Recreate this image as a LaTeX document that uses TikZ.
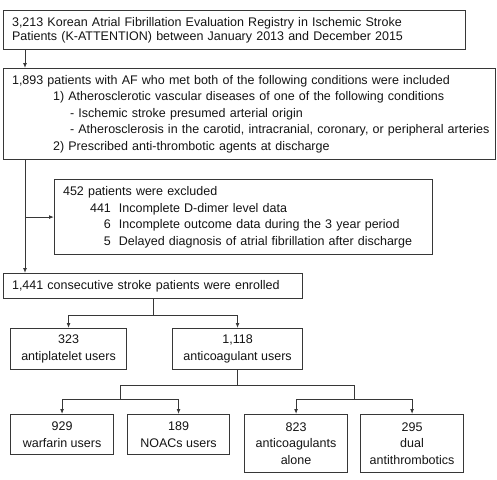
\documentclass[tikz,border=0pt]{standalone}
\usepackage{fontspec}
\setmainfont{Liberation Sans}
\usetikzlibrary{arrows.meta, positioning, calc}
\definecolor{linegray}{RGB}{55,55,55}
\definecolor{textgray}{RGB}{20,20,20}

\begin{document}
\begin{tikzpicture}[
    x=1pt, y=-1pt,
    box/.style={rectangle, draw=linegray, line width=1.1pt, text=textgray, font=\fontsize{12.5}{16.6}\selectfont, anchor=north west, inner xsep=8.5pt, inner ysep=0pt, align=left},
    groupbox/.style={box, align=center, inner xsep=0pt},
    link/.style={line width=1pt, draw=linegray},
    arrow/.style={-{Latex[length=5pt, width=4pt]}, line width=1pt, draw=linegray}
]
\useasboundingbox (0,0) rectangle (497,479);

% Registry
\node[box, minimum width=462pt, minimum height=39pt, text width=445pt, font=\fontsize{12.5}{14}\selectfont] (registry) at (3,10) {3,213 Korean Atrial Fibrillation Evaluation Registry in Ischemic Stroke\\Patients (K-ATTENTION) between January 2013 and December 2015};

% Inclusion criteria
\node[box, minimum width=492pt, minimum height=91pt, text width=475pt] (included) at (3,68) {\begin{tabular}{@{}l@{}}
1,893 patients with AF who met both of the following conditions were included\\
\hspace*{41pt}1) Atherosclerotic vascular diseases of one of the following conditions\\
\hspace*{58pt}- Ischemic stroke presumed arterial origin\\
\hspace*{58pt}- Atherosclerosis in the carotid, intracranial, coronary, or peripheral arteries\\
\hspace*{41pt}2) Prescribed anti-thrombotic agents at discharge
\end{tabular}};

% Exclusions
\node[box, minimum width=378pt, minimum height=75pt, text width=361pt] (excluded) at (54,179) {\begin{tabular}{@{}r@{\hspace{8pt}}l@{}}
\multicolumn{2}{@{}l@{}}{452 patients were excluded}\\
\hspace*{27pt}441 & Incomplete D-dimer level data\\
6 & Incomplete outcome data during the 3 year period\\
5 & Delayed diagnosis of atrial fibrillation after discharge
\end{tabular}};

% Enrolled
\node[box, minimum width=299pt, minimum height=25pt, text width=282pt] (enrolled) at (3,273) {1,441 consecutive stroke patients were enrolled};

% Antithrombotic groups
\node[groupbox, minimum width=116pt, minimum height=41pt] (antiplatelet) at (10,328) {323\\antiplatelet users};
\node[groupbox, minimum width=130pt, minimum height=41pt] (anticoag) at (172,328) {1,118\\anticoagulant users};

% Anticoagulant subgroups
\node[groupbox, minimum width=103pt, minimum height=40pt] (warfarin) at (10,414) {929\\warfarin users};
\node[groupbox, minimum width=102pt, minimum height=40pt] (noac) at (127,414) {189\\NOACs users};
\node[groupbox, minimum width=103pt, minimum height=58pt] (alone) at (244,414) {823\\anticoagulants\\alone};
\node[groupbox, minimum width=103pt, minimum height=58pt] (dual) at (360,414) {295\\dual\\antithrombotics};

% Main flow
\draw[arrow] ([xshift=22pt]registry.south west) -- ([xshift=22pt]included.north west);
\coordinate (trunk) at ([xshift=22pt]included.south west);
\draw[arrow] (trunk) -- (trunk |- enrolled.north);
\draw[arrow] (trunk |- excluded.west) -- (excluded.west);

% Split by agent
\coordinate (split) at ([yshift=-16pt]enrolled.south);
\draw[link] (enrolled.south) -- (split);
\draw[arrow] (split) -| (antiplatelet.north);
\draw[arrow] (split) -| (anticoag.north);

% Split of anticoagulant users
\coordinate (branch) at ([yshift=-15pt]anticoag.south);
\coordinate (drugsplit) at ($(warfarin.north)!0.5!(noac.north)+(0,-15)$);
\coordinate (usesplit) at ($(alone.north)!0.5!(dual.north)+(0,-15)$);
\draw[link] (anticoag.south) -- (branch);
\draw[link] (branch -| drugsplit) -- (branch -| usesplit);
\draw[link] (branch -| drugsplit) -- (drugsplit);
\draw[link] (branch -| usesplit) -- (usesplit);
\draw[arrow] (drugsplit) -| (warfarin.north);
\draw[arrow] (drugsplit) -| (noac.north);
\draw[arrow] (usesplit) -| (alone.north);
\draw[arrow] (usesplit) -| (dual.north);

\end{tikzpicture}
\end{document}
